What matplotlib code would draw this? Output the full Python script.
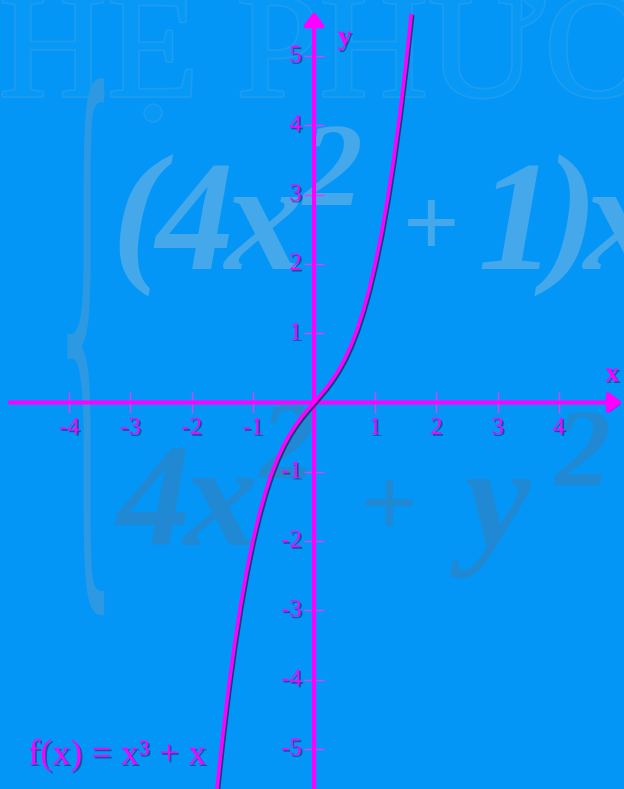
import matplotlib
matplotlib.use("Agg")
import matplotlib.pyplot as plt
import matplotlib.patheffects as pe
from matplotlib.textpath import TextPath
from matplotlib.patches import PathPatch
from matplotlib.font_manager import FontProperties
from matplotlib.transforms import Affine2D

# points read along the curve f(x) = x^3 + x
curve_x = [-1.6, -1.5, -1.4, -1.3, -1.2, -1.1, -1.0, -0.9, -0.8, -0.7, -0.6,
           -0.5, -0.4, -0.3, -0.2, -0.1, 0.0, 0.1, 0.2, 0.3, 0.4, 0.5, 0.6,
           0.7, 0.8, 0.9, 1.0, 1.1, 1.2, 1.3, 1.4, 1.5, 1.59]
curve_y = [-5.696, -4.875, -4.144, -3.497, -2.928, -2.431, -2.0, -1.629,
           -1.312, -1.043, -0.816, -0.625, -0.464, -0.327, -0.208, -0.101,
           0.0, 0.101, 0.208, 0.327, 0.464, 0.625, 0.816, 1.043, 1.312,
           1.629, 2.0, 2.431, 2.928, 3.497, 4.144, 4.875, 5.61]

x_ticks = [-4, -3, -2, -1, 1, 2, 3, 4]
y_ticks = [-5, -4, -3, -2, -1, 1, 2, 3, 4, 5]
formula = "f(x) = x³ + x"

bg = "#0396f7"
mag = "#ff00ff"
wm_light = "#45a8eb"
wm_dark = "#2188d3"

fig = plt.figure(figsize=(6.24, 7.89), dpi=100, facecolor=bg)
ax = fig.add_axes([0, 0, 1, 1])
ax.set_xlim(-5.131, 5.065)
ax.set_ylim(-5.577, 5.808)
ax.axis("off")

# faded background watermark
ax.text(-5.15, 4.42, "HỆ PHƯƠNG", fontsize=108, family="Liberation Serif",
        color="#0898f5", ha="left", va="baseline", zorder=0,
        path_effects=[pe.withStroke(linewidth=2.5, foreground="#1d9df0")])

wfont = FontProperties(family="Liberation Serif", style="italic", weight="bold")
# (glyph, x, baseline, size)
top_row = [("(", -2.89, 2.0, 112), ("4", -1.95, 1.93, 112), ("x", -0.82, 1.93, 112),
           ("2", 0.3, 2.85, 86), ("+", 1.9, 2.12, 72), ("1", 3.3, 1.93, 112),
           (")", 4.2, 2.0, 112), ("x", 5.05, 1.93, 112)]
bot_row = [("4", -2.63, -2.06, 106), ("x", -1.52, -2.06, 106), ("2", -0.44, -1.09, 80),
           ("+", 1.21, -1.93, 72), ("y", 3.0, -2.09, 106), ("2", 4.38, -1.19, 80)]
for txt, tx, ty, fs in top_row:
    ax.text(tx, ty, txt, fontproperties=wfont, fontsize=fs, color=wm_light,
            ha="center", va="baseline", zorder=0)
for txt, tx, ty, fs in bot_row:
    ax.text(tx, ty, txt, fontproperties=wfont, fontsize=fs, color=wm_dark,
            ha="center", va="baseline", zorder=0)

# tall thin brace
brace = TextPath((0, 0), "{", size=1, prop=FontProperties(family="DejaVu Sans", weight="light"))
bb = brace.get_extents()
tr = Affine2D().translate(-bb.x0, -bb.y0).scale(0.6 / bb.width, 7.75 / bb.height).translate(-4.03, -3.07)
ax.add_patch(PathPatch(tr.transform_path(brace), facecolor="#2e99e3", edgecolor="none", zorder=0))

shadow_line = [pe.SimpleLineShadow(offset=(1.0, -1.0), shadow_color="#002a55", alpha=0.75), pe.Normal()]
shadow_patch = [pe.withSimplePatchShadow(offset=(1.2, -1.2), shadow_rgbFace="#002a55", alpha=0.8)]
shadow_text = [pe.withSimplePatchShadow(offset=(1.2, -1.2), shadow_rgbFace="#003366", alpha=0.6)]

# axes with arrows
for start, tip in [((-4.97, 0), (5.04, 0)), ((0, -5.6), (0, 5.64))]:
    a = ax.annotate("", xy=tip, xytext=start, zorder=3,
                    arrowprops=dict(arrowstyle="-|>,head_length=0.8,head_width=0.6",
                                    color=mag, lw=3, shrinkA=0, shrinkB=0))
    a.arrow_patch.set_path_effects(shadow_patch)

ax.vlines(x_ticks, -0.145, 0.145, color="#e040f0", lw=1, zorder=2)
ax.hlines(y_ticks, -0.165, 0.165, color="#e040f0", lw=1, zorder=2)

for t in x_ticks:
    ax.text(t, -0.37, str(t), ha="center", va="center", color=mag, fontsize=18,
            family="Liberation Serif", path_effects=shadow_text, zorder=4)
for t in y_ticks:
    ax.text(-0.2, t, str(t), ha="right", va="center", color=mag, fontsize=18,
            family="Liberation Serif", path_effects=shadow_text, zorder=4)

ax.text(4.87, 0.4, "x", ha="center", va="center", color=mag, fontsize=20,
        family="Liberation Serif", weight="bold", path_effects=shadow_text, zorder=4)
ax.text(0.5, 5.26, "y", ha="center", va="center", color=mag, fontsize=20,
        family="Liberation Serif", weight="bold", path_effects=shadow_text, zorder=4)

ax.plot(curve_x, curve_y, color=mag, lw=2.6, solid_capstyle="butt",
        path_effects=shadow_line, zorder=5)

ax.text(-4.67, -5.22, formula, ha="left", va="baseline", color=mag, fontsize=26,
        family="Liberation Serif", path_effects=shadow_text, zorder=4)

fig.savefig("out.png", dpi=100, facecolor=bg)
